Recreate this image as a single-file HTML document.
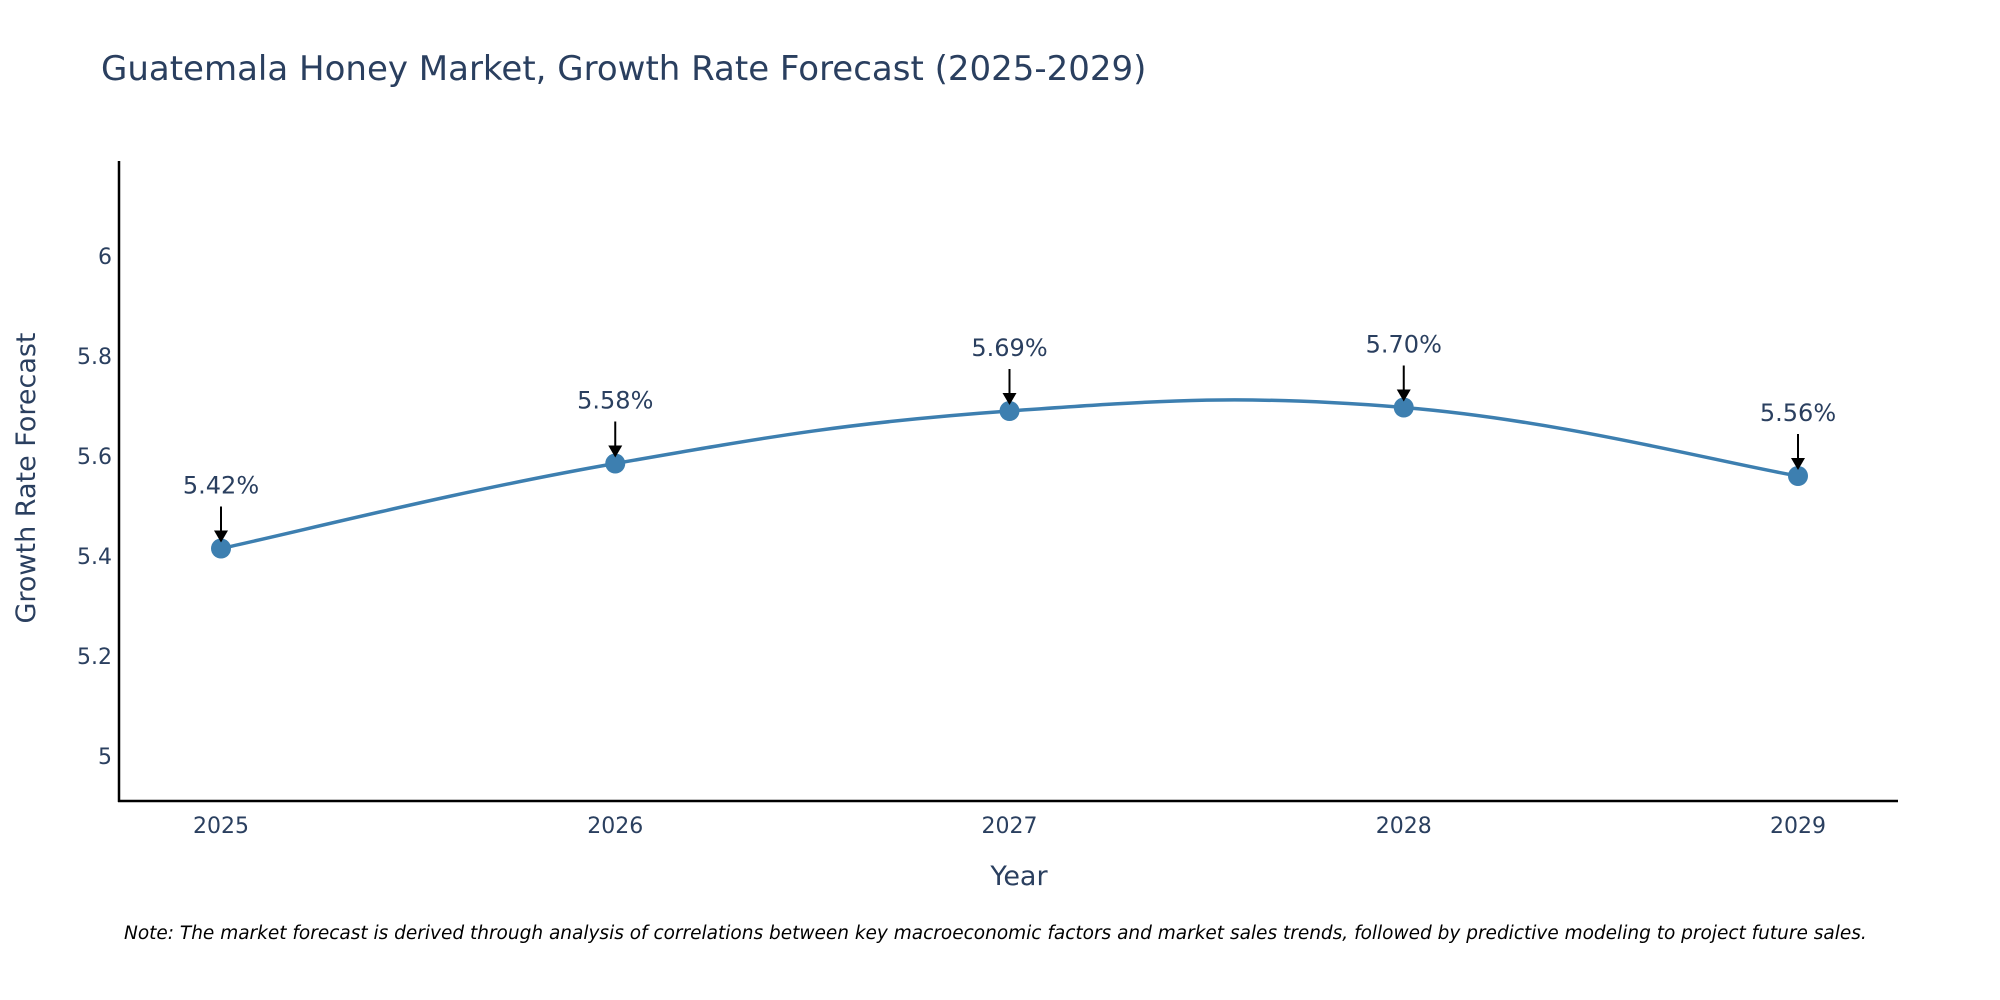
<!DOCTYPE html>
<html><head><meta charset="utf-8"><style>
body{margin:0;background:#fff;}
svg{display:block;font-family:"DejaVu Sans","Liberation Sans",sans-serif;}
</style></head><body>
<svg id="chart" width="2000" height="1000" viewBox="0 0 2000 1000">
<rect width="2000" height="1000" fill="#fff"/>
<text x="101" y="80" font-size="34" fill="#2a3f5f">Guatemala Honey Market, Growth Rate Forecast (2025-2029)</text>
<g id="yticks"></g>
<g id="xticks"></g>
<line x1="119" y1="161" x2="119" y2="802" stroke="#000" stroke-width="2.5"/>
<line x1="118" y1="801" x2="1898" y2="801" stroke="#000" stroke-width="2.5"/>
<text x="1019" y="885" font-size="27" fill="#2a3f5f" text-anchor="middle">Year</text>
<text transform="translate(35,478) rotate(-90)" font-size="27" fill="#2a3f5f" text-anchor="middle">Growth Rate Forecast</text>
<g id="series"></g>
<text x="124" y="939" font-size="18.5" font-style="italic" fill="#000">Note: The market forecast is derived through analysis of correlations between key macroeconomic factors and market sales trends, followed by predictive modeling to project future sales.</text>
</svg>
<script>
const years = [2025, 2026, 2027, 2028, 2029];
const growth = [5.415, 5.585, 5.69, 5.697, 5.56];
const growthLabels = ["5.42%", "5.58%", "5.69%", "5.70%", "5.56%"];
const yTickValues = [5, 5.2, 5.4, 5.6, 5.8, 6];
const yTickLabels = ["5", "5.2", "5.4", "5.6", "5.8", "6"];

const NS = "http://www.w3.org/2000/svg";
const xScale = v => 221 + (v - 2025) * (1798 - 221) / 4;
const yScale = v => 756 - (v - 5) * 500;
function mk(tag, attrs, parent) {
  const e = document.createElementNS(NS, tag);
  for (const k in attrs) e.setAttribute(k, attrs[k]);
  parent.appendChild(e);
  return e;
}
const yt = document.getElementById('yticks');
yTickValues.forEach((v, i) => {
  const t = mk('text', {x: 112, y: yScale(v) + 8, 'font-size': 22, fill: '#2a3f5f', 'text-anchor': 'end'}, yt);
  
  
  t.textContent = yTickLabels[i];
});
const xt = document.getElementById('xticks');
years.forEach(v => {
  const t = mk('text', {x: xScale(v), y: 833, 'font-size': 22, fill: '#2a3f5f', 'text-anchor': 'middle'}, xt);
  
  
  t.textContent = String(v);
});
const s = document.getElementById('series');
const pts = years.map((y, i) => [xScale(y), yScale(growth[i])]);
let d = `M${pts[0][0]},${pts[0][1]}`;
const k = 0.2;
for (let i = 0; i < pts.length - 1; i++) {
  const p0 = pts[Math.max(0, i - 1)], p1 = pts[i], p2 = pts[i + 1], p3 = pts[Math.min(pts.length - 1, i + 2)];
  const c1 = [p1[0] + (p2[0] - p0[0]) * k, p1[1] + (p2[1] - p0[1]) * k];
  const c2 = [p2[0] - (p3[0] - p1[0]) * k, p2[1] - (p3[1] - p1[1]) * k];
  d += ` C${c1[0]},${c1[1]} ${c2[0]},${c2[1]} ${p2[0]},${p2[1]}`;
}
const line = mk('path', {d, fill: 'none', stroke: '#3d7fb0', 'stroke-width': 3.5}, s);


pts.forEach((p, i) => {
  const c = mk('circle', {cx: p[0], cy: p[1], r: 10, fill: '#3d7fb0'}, s);
  
  
  const a = mk('line', {x1: p[0], y1: p[1] - 42, x2: p[0], y2: p[1] - 16, stroke: '#000', 'stroke-width': 2}, s);
  
  
  const h = mk('polygon', {points: `${p[0]-7},${p[1]-18} ${p[0]+7},${p[1]-18} ${p[0]},${p[1]-6}`, fill: '#000'}, s);
  
  
  const t = mk('text', {x: p[0], y: p[1] - 55, 'font-size': 24, fill: '#2a3f5f', 'text-anchor': 'middle'}, s);
  
  
  t.textContent = growthLabels[i];
});
</script>
</body></html>
